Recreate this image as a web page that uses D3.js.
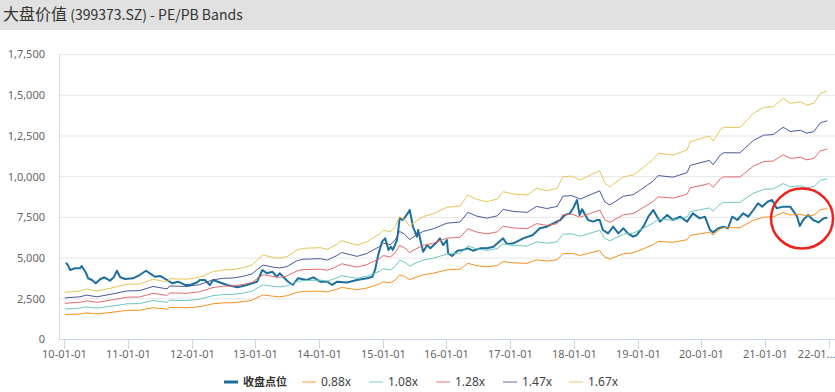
<!DOCTYPE html>
<html lang="zh">
<head>
    <meta charset="UTF-8">
    <title>大盘价值 PE/PB Bands</title>
    <script src="https://d3js.org/d3.v7.min.js"></script>
    <style>
        body { margin: 0; background: #fff; }
        svg { display: block; font-family: "Noto Sans", "Noto Sans CJK SC", sans-serif; }
        .grid line { stroke: #e6e6e6; }
        .tick-label { font-size: 11px; fill: #666; }
    </style>
</head>
<body>
    <svg width="835" height="392"></svg>

    <script>
        // ---- data ----
        const titleName = "大盘价值";
        const titleRest = " (399373.SZ) - PE/PB Bands";

        // book value per share (1.00x), the bands are multiples of it
        const bandDates = [
            "2010-01-04","2010-04-01","2010-05-10","2010-07-08","2010-09-20","2010-11-18","2010-12-28",
            "2011-03-09","2011-05-25","2011-08-14","2011-08-28","2011-12-06",
            "2012-02-17","2012-05-03","2012-07-01","2012-08-25","2012-10-23","2012-12-13",
            "2013-01-11","2013-02-14","2013-04-11","2013-05-21","2013-07-01","2013-08-28","2013-10-01",
            "2014-01-08","2014-02-17","2014-04-15","2014-05-10","2014-08-07","2014-10-04","2014-12-16",
            "2015-01-04","2015-02-14","2015-03-13","2015-04-08","2015-05-07","2015-06-05","2015-06-23","2015-08-21","2015-10-15",
            "2016-01-04","2016-03-20","2016-05-03","2016-06-23","2016-08-21","2016-10-19","2016-11-21",
            "2017-01-19","2017-04-08","2017-06-01","2017-07-30","2017-09-27","2017-10-30","2017-12-20",
            "2018-02-07","2018-04-04","2018-05-29","2018-06-27","2018-07-26","2018-10-12","2018-12-06",
            "2019-01-15","2019-04-01","2019-04-29","2019-07-23","2019-10-12","2019-10-30",
            "2020-02-17","2020-03-09","2020-04-19","2020-05-07","2020-08-10","2020-10-26","2020-12-24",
            "2021-02-17","2021-04-15","2021-05-25","2021-07-23","2021-08-28","2021-10-08","2021-11-14","2021-12-24"
        ];
        const bookValue = [
            1737,1784,1856,1784,1883,1970,2030,
            2042,2216,2114,2237,2216,
            2293,2494,2557,2569,2641,2740,
            2925,3108,3024,2988,3048,3293,3353,
            3377,3317,3512,3635,3473,3599,3892,
            4027,3964,4150,4518,4395,4174,4272,4518,4617,
            4862,4910,5314,5156,5069,5168,5437,
            5353,5314,5560,5473,5560,5988,6012,
            5868,6048,6210,5746,5620,5988,6048,
            6234,6629,6850,6784,6970,7275,
            7485,7299,7707,7802,7802,8317,8539,
            8563,8871,8689,8743,8623,8689,9054,9141
        ];

        // index close
        const closeDates = [
            "2010-01-11","2010-01-22","2010-02-03","2010-03-04","2010-04-01","2010-04-11","2010-05-07","2010-05-18",
            "2010-06-09","2010-07-01","2010-07-26","2010-08-18","2010-09-20","2010-10-12","2010-10-30","2010-11-18","2010-12-16",
            "2011-01-30","2011-03-09","2011-04-15","2011-05-07","2011-06-05","2011-07-04","2011-07-19","2011-08-14",
            "2011-09-13","2011-10-15","2011-11-25","2011-12-24",
            "2012-02-03","2012-02-17","2012-03-17","2012-04-15","2012-05-03","2012-07-23","2012-09-20","2012-11-14",
            "2013-01-11","2013-02-10","2013-03-09","2013-04-08","2013-05-03","2013-05-21","2013-06-09","2013-07-08",
            "2013-08-04","2013-09-02","2013-10-23","2013-11-29",
            "2014-01-08","2014-02-17","2014-03-17","2014-04-15","2014-06-09","2014-08-07","2014-10-04","2014-11-03",
            "2014-11-18","2014-12-06","2014-12-28",
            "2015-01-15","2015-02-03","2015-02-17","2015-02-28","2015-03-24","2015-03-28","2015-04-08","2015-04-27",
            "2015-05-18","2015-06-05","2015-06-16","2015-06-23","2015-07-16","2015-07-23","2015-08-14","2015-08-21",
            "2015-09-13","2015-10-01","2015-11-10","2015-11-25","2015-12-13",
            "2016-01-04","2016-01-11","2016-02-03","2016-03-04","2016-04-04","2016-05-03","2016-06-02","2016-07-12",
            "2016-08-21","2016-09-27","2016-11-21","2016-12-13",
            "2017-01-19","2017-03-17","2017-05-10","2017-06-20","2017-07-30","2017-09-05","2017-10-15","2017-11-10",
            "2017-12-09","2017-12-28",
            "2018-01-19","2018-02-03","2018-02-17","2018-03-07","2018-03-24","2018-04-19","2018-05-15","2018-05-29",
            "2018-06-16","2018-07-16","2018-08-14","2018-09-13","2018-10-12","2018-11-07","2018-12-06","2018-12-28",
            "2019-02-03","2019-03-04","2019-04-01","2019-04-23","2019-05-10","2019-06-20","2019-07-23","2019-09-02",
            "2019-10-12","2019-11-14","2019-12-24",
            "2020-01-22","2020-02-21","2020-03-09","2020-04-08","2020-05-07","2020-06-02","2020-06-27","2020-07-26",
            "2020-08-28","2020-09-27","2020-10-26","2020-11-21","2020-12-16",
            "2021-01-15","2021-02-10","2021-03-09","2021-04-15","2021-05-25","2021-07-04","2021-07-19","2021-08-07",
            "2021-09-05","2021-10-04","2021-11-03","2021-12-02","2021-12-24"
        ];
        const closeValues = [
            4715,4575,4270,4375,4375,4515,4065,3760,
            3655,3450,3700,3820,3610,3820,4225,3820,3715,
            3760,3960,4225,4065,3855,3900,3820,3655,
            3450,3550,3350,3350,
            3515,3655,3655,3350,3655,3350,3205,3350,
            3550,4270,4065,4165,3855,4065,3855,3550,
            3350,3760,3655,3820,
            3550,3550,3350,3550,3500,3655,3760,3855,
            4270,5190,6010,
            6215,5500,5700,5500,6110,6420,7445,7340,
            7650,7955,7340,6930,6315,6725,5700,5395,
            5800,5600,6010,6215,5800,
            6110,5295,5130,5455,5500,5600,5455,5600,
            5600,5700,6215,5865,
            5910,6215,6420,6830,6930,7135,7340,7650,
            7750,8060,
            8570,7650,8000,7650,7340,7240,7340,7340,
            6725,6520,6930,6520,6830,6520,6315,6420,
            6930,7545,7955,7545,7240,7650,7340,7545,
            7240,7750,7440,
            7545,6725,6580,6830,6930,6830,7545,7340,
            7750,7545,7955,8365,8160,
            8465,8570,8060,8160,8160,7545,6970,7340,
            7650,7340,7190,7440,7480
        ];

        const closeLabel = "收盘点位";
        const multiples = [0.88, 1.08, 1.28, 1.47, 1.67];
        const bandLabels = ["0.88x", "1.08x", "1.28x", "1.47x", "1.67x"];
        const bandColors = ["#f7901e", "#6cc6c1", "#e5686b", "#4b5899", "#e8c457"];
        const closeColor = "#1d6f9b";

        const yTicks = [0, 2500, 5000, 7500, 10000, 12500, 15000, 17500];
        const yTickLabels = ["0", "2,500", "5,000", "7,500", "1,0,000", "1,2,500", "1,5,000", "1,7,500"];
        const xTicks = ["2010-01-01","2011-01-01","2012-01-01","2013-01-01","2014-01-01","2015-01-01","2016-01-01",
                        "2017-01-01","2018-01-01","2019-01-01","2020-01-01","2021-01-01","2022-01-01"];
        const xTickLabels = ["10-01-01","11-01-01","12-01-01","13-01-01","14-01-01","15-01-01","16-01-01",
                             "17-01-01","18-01-01","19-01-01","20-01-01","21-01-01","22-01…"];

        // annotation circle (red) around the last months
        const markDate = "2021-08-01", markValue = 7430;

        // ---- layout ----
        const W = 835, H = 392;
        const plot = {left: 59, right: 835, top: 54.6, bottom: 339.5};
        const parse = d3.timeParse("%Y-%m-%d");

        const svg = d3.select("svg");

        // title bar
        svg.append("rect").attr("x", 0).attr("y", 0).attr("width", W).attr("height", 30).attr("fill", "#e1e1e1");
        const title = svg.append("text")
            .attr("x", 3).attr("y", 20)
            .attr("font-family", "'Noto Sans CJK SC', sans-serif")
            .attr("fill", "#333");
        title.append("tspan").attr("font-size", 16).text(titleName);
        title.append("tspan").attr("font-size", 14).text(titleRest);

        const x = d3.scaleTime()
            .domain([parse("2009-12-02"), parse("2022-02-06")])
            .range([plot.left, plot.right]);
        const y = d3.scaleLinear()
            .domain([0, 17500])
            .range([plot.bottom, plot.top]);

        // grid lines
        svg.append("g").attr("class", "grid")
            .selectAll("line").data(yTicks.slice(1)).join("line")
            .attr("x1", plot.left).attr("x2", plot.right)
            .attr("y1", d => y(d)).attr("y2", d => y(d));

        // y labels
        svg.append("g").selectAll("text").data(yTicks).join("text")
            .attr("class", "tick-label")
            .attr("x", 45).attr("y", d => y(d)).attr("dy", "0.35em")
            .attr("text-anchor", "end")
            .text((d, i) => yTickLabels[i]);

        // axis lines
        svg.append("line").attr("x1", plot.left + 0.5).attr("x2", plot.left + 0.5)
            .attr("y1", plot.top).attr("y2", plot.bottom).attr("stroke", "#ccd6eb");
        svg.append("line").attr("x1", plot.left).attr("x2", plot.right)
            .attr("y1", plot.bottom).attr("y2", plot.bottom).attr("stroke", "#ccd6eb");

        // x ticks
        const xt = svg.append("g").selectAll("g").data(xTicks).join("g")
            .attr("transform", d => `translate(${Math.round(x(parse(d))) + 0.5},${plot.bottom})`);
        xt.append("line").attr("y1", 0).attr("y2", 9).attr("stroke", "#ccd6eb");
        xt.append("text").attr("class", "tick-label")
            .attr("y", 18)
            .attr("text-anchor", (d, i) => i === xTicks.length - 1 ? "end" : "middle")
            .attr("x", (d, i) => i === xTicks.length - 1 ? W - 0.5 - x(parse(d)) : 0)
            .text((d, i) => xTickLabels[i]);

        // clip to plot
        svg.append("clipPath").attr("id", "clip")
            .append("rect").attr("x", plot.left).attr("y", plot.top - 5)
            .attr("width", plot.right - plot.left).attr("height", plot.bottom - plot.top + 5);

        const line = d3.line()
            .x(d => x(d.date))
            .y(d => y(d.value));

        const series = svg.append("g").attr("clip-path", "url(#clip)");

        const closeData = closeDates.map((d, i) => ({date: parse(d), value: closeValues[i]}));
        series.append("path")
            .datum(closeData)
            .attr("fill", "none")
            .attr("stroke", closeColor)
            .attr("stroke-width", 2)
            .attr("stroke-linejoin", "round")
            .attr("d", line);

        multiples.forEach((m, k) => {
            const data = bandDates.map((d, i) => ({date: parse(d), value: bookValue[i] * m}));
            series.append("path")
                .datum(data)
                .attr("fill", "none")
                .attr("stroke", bandColors[k])
                .attr("stroke-width", 1)
                .attr("d", line);
        });

        // red circle
        svg.append("ellipse")
            .attr("cx", x(parse(markDate))).attr("cy", y(markValue))
            .attr("rx", 31).attr("ry", 30)
            .attr("fill", "none").attr("stroke", "#f0201a").attr("stroke-width", 2.5);

        // legend
        const legendItems = [{label: closeLabel, color: closeColor, bold: true, w: 3, op: 1}]
            .concat(bandLabels.map((l, i) => ({label: l, color: bandColors[i], bold: false, w: 1.5, op: 0.6})));
        const legendX = [243, 321, 388, 455, 522, 588];
        const lg = svg.append("g").selectAll("g").data(legendItems).join("g")
            .attr("transform", (d, i) => `translate(${legendX[i]},382)`);
        lg.append("line").attr("x1", -19).attr("x2", -5).attr("y1", 0).attr("y2", 0)
            .attr("stroke", d => d.color).attr("stroke-width", d => d.w).attr("stroke-opacity", d => d.op);
        lg.append("text")
            .attr("dy", "0.35em")
            .attr("font-family", d => d.bold ? "'Noto Sans CJK SC', sans-serif" : "'Noto Sans', sans-serif")
            .attr("font-size", d => d.bold ? 11 : 12)
            .attr("font-weight", d => d.bold ? "bold" : "normal")
            .attr("fill", d => d.bold ? "#333" : "#444")
            .text(d => d.label);
    </script>
</body>
</html>
